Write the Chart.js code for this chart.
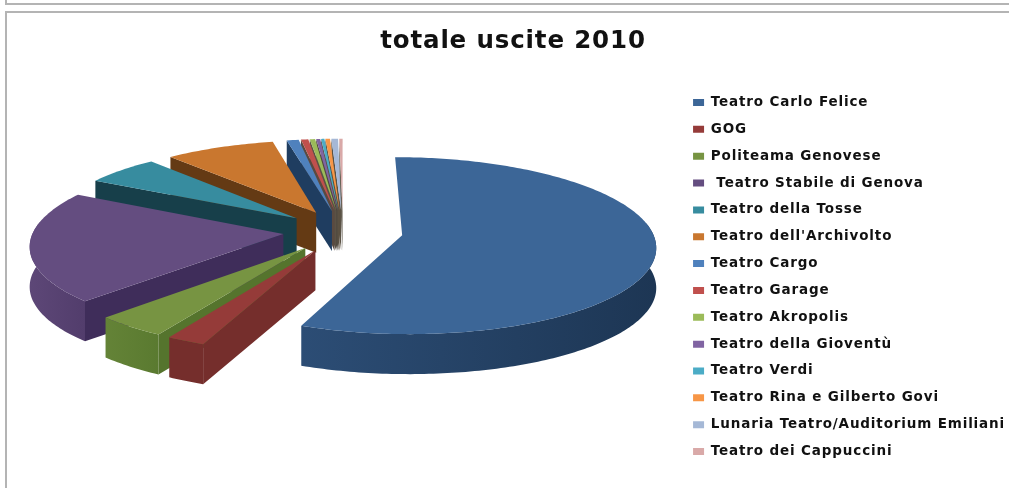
<!DOCTYPE html>
<html>
<head>
<meta charset="utf-8">
<title>totale uscite 2010</title>
<style>
    html, body { margin: 0; padding: 0; background: #fff; overflow: hidden; }
    #wrap { position: relative; width: 1009px; height: 488px; overflow: hidden; }
    #strip { position: absolute; left: 5px; top: -6px; width: 1100px; height: 7px; border: 2px solid #b4b4b4; }
    #frame { position: absolute; left: 5px; top: 11px; width: 1100px; height: 600px; border: 2px solid #b4b4b4; }
    canvas { position: absolute; left: 0; top: 0; }
</style>
<script src="https://cdn.jsdelivr.net/npm/chart.js@4"></script>
</head>
<body>
<div id="wrap">
    <div id="strip"></div>
    <div id="frame"></div>
    <canvas id="pie" width="1009" height="488"></canvas>
</div>
<script>
const theatres = ['Teatro Carlo Felice', 'GOG', 'Politeama Genovese', ' Teatro Stabile di Genova', 'Teatro della Tosse',
    "Teatro dell'Archivolto", 'Teatro Cargo', 'Teatro Garage', 'Teatro Akropolis', 'Teatro della Gioventù',
    'Teatro Verdi', 'Teatro Rina e Gilberto Govi', 'Lunaria Teatro/Auditorium Emiliani', 'Teatro dei Cappuccini'];

// share of the total
const uscite = [56.4, 2.2, 4.1, 20.3, 5.5, 8.2, 0.9, 0.55, 0.4, 0.3, 0.25, 0.35, 0.5, 0.25];

const topColors = ['#3c6697', '#953b39', '#779442', '#644d80', '#378c9f', '#c9772f', '#4f81bd', '#c0504d',
    '#9bbb59', '#8064a2', '#4bacc6', '#f79646', '#a5b8d6', '#d9a9a8'];
// radial wall colour
const wallColors = ['#1d3654', '#752e2c', '#55742d', '#3f2d5a', '#173f4a', '#643a14', '#1f3d60', '#5a4a40',
    '#5a5245', '#50483f', '#5a5245', '#5c5040', '#5a5245', '#6a6458'];
// outer rim: left and right end of the gradient
const rimLeft = ['#2c4d75', '#752e2c', '#648337', '#5d4777', '#173f4a', '#643a14', '#1f3d60', '#5a4a40',
    '#5a5245', '#50483f', '#5a5245', '#5c5040', '#5a5245', '#6a6458'];
const rimRight = ['#1d3654', '#752e2c', '#5a7a30', '#523d6c', '#173f4a', '#643a14', '#1f3d60', '#5a4a40',
    '#5a5245', '#50483f', '#5a5245', '#5c5040', '#5a5245', '#6a6458'];

// tilted, extruded drawing of the library's arc elements
const tiltedPie = {
    id: 'tiltedPie',
    beforeLayout(chart, args, opts) {
        // the original text is stretched sideways
        chart.ctx.letterSpacing = opts.letterSpacing;
    },
    beforeDatasetsDraw(chart, args, opts) {
        const ctx = chart.ctx;
        const arcs = chart.getDatasetMeta(0).data;
        const centerX = opts.centerX, centerY = opts.centerY, depth = opts.depth;

        function project(arc, angle, radius) {
            const mid = (arc.startAngle + arc.endAngle) / 2;
            const shift = arc.options.offset / 4;
            const u = Math.cos(mid) * shift + Math.cos(angle) * radius;
            const v = Math.sin(mid) * shift + Math.sin(angle) * radius;
            const grow = 1 + opts.perspective * v / arc.outerRadius;
            return { x: centerX + u * grow, y: centerY + v * opts.squash * grow };
        }

        function wall(apex, p) {
            ctx.beginPath();
            ctx.moveTo(apex.x, apex.y);
            ctx.lineTo(p.x, p.y);
            ctx.lineTo(p.x, p.y + depth);
            ctx.lineTo(apex.x, apex.y + depth);
            ctx.closePath();
            ctx.fill();
        }

        ctx.save();
        for (let i = arcs.length - 1; i >= 0; i--) {
            const arc = arcs[i];
            const rim = [], front = [];
            const steps = Math.max(2, Math.ceil((arc.endAngle - arc.startAngle) * 60));
            for (let s = 0; s <= steps; s++) {
                const a = arc.startAngle + (arc.endAngle - arc.startAngle) * s / steps;
                const p = project(arc, a, arc.outerRadius);
                rim.push(p);
                if (Math.sin(a) > -0.15) front.push(p);
            }
            const apex = project(arc, 0, 0);

            // radial walls, only the ones turned towards the viewer
            ctx.fillStyle = wallColors[i];
            if (Math.cos(arc.startAngle) < -1e-6) wall(apex, rim[0]);
            if (Math.cos(arc.endAngle) > 1e-6) wall(apex, rim[rim.length - 1]);

            // outer rim, front part only
            if (front.length > 1) {
                const xs = front.map(function (p) { return p.x; });
                const grad = ctx.createLinearGradient(Math.min.apply(null, xs), 0, Math.max.apply(null, xs), 0);
                grad.addColorStop(0, rimLeft[i]);
                grad.addColorStop(1, rimRight[i]);
                ctx.fillStyle = grad;
                ctx.beginPath();
                front.forEach(function (p, k) {
                    if (k === 0) ctx.moveTo(p.x, p.y); else ctx.lineTo(p.x, p.y);
                });
                front.slice().reverse().forEach(function (p) { ctx.lineTo(p.x, p.y + depth); });
                ctx.closePath();
                ctx.fill();
            }

            // top face
            ctx.fillStyle = topColors[i];
            ctx.beginPath();
            ctx.moveTo(apex.x, apex.y);
            rim.forEach(function (p) { ctx.lineTo(p.x, p.y); });
            ctx.closePath();
            ctx.fill();
        }
        ctx.restore();
        return false;
    }
};

new Chart(document.getElementById('pie').getContext('2d'), {
    type: 'pie',
    data: {
        labels: theatres,
        datasets: [{
            data: uscite,
            backgroundColor: topColors,
            borderWidth: 0,
            offset: 240,
            radius: 250
        }]
    },
    options: {
        responsive: false,
        animation: false,
        layout: { padding: { left: 11, right: -6, top: 0, bottom: -66 } },
        plugins: {
            tiltedPie: {
                centerX: 343, centerY: 231, squash: 0.35, perspective: 0.12,
                depth: 40, letterSpacing: '0.85px'
            },
            title: {
                display: true,
                text: 'totale uscite 2010',
                color: '#111',
                font: { family: '"DejaVu Sans"', size: 24.5, weight: 'bold' },
                padding: { top: 27, bottom: 10 }
            },
            legend: {
                position: 'right',
                labels: {
                    boxWidth: 11,
                    boxHeight: 7,
                    padding: 13.35,
                    color: '#111',
                    font: { family: '"DejaVu Sans"', size: 13.5, weight: 'bold' }
                }
            },
            tooltip: { enabled: false }
        }
    },
    plugins: [tiltedPie]
});
</script>
</body>
</html>
